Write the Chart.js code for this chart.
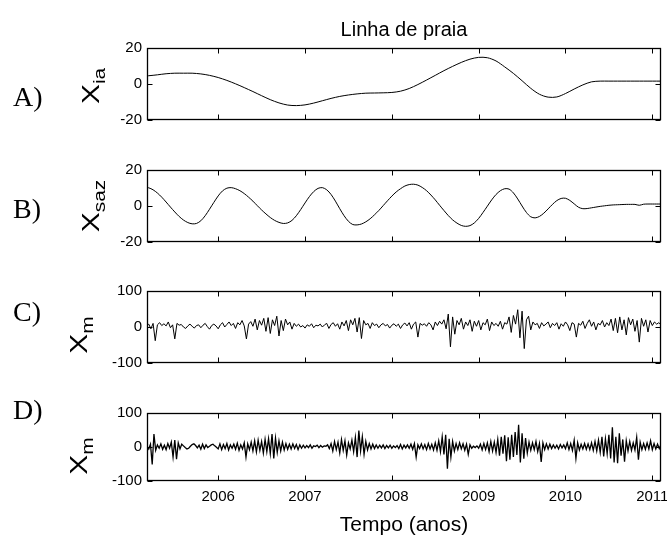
<!DOCTYPE html>
<html>
<head>
<meta charset="utf-8">
<script src="https://cdn.jsdelivr.net/npm/chart.js@4.4.1/dist/chart.umd.min.js"></script>
<style>
  body { margin: 0; background: #fff; }
  #wrap { position: relative; width: 667px; height: 540px; overflow: hidden; font-family: "Liberation Sans", Arial, sans-serif; }
  #wrap canvas { position: absolute; left: 0; }
  .tag { position: absolute; font-family: "Liberation Serif", "Times New Roman", serif; font-size: 28px; line-height: 28px; color: #000; }
  .ytl { position: absolute; font-size: 23px; line-height: 23px; white-space: nowrap; color: #000;
         transform: translate(-50%, -50%) rotate(-90deg) scaleX(1.3); }
  .ytl sub { font-size: 16px; vertical-align: -6px; }
</style>
</head>
<body>
<div id="wrap"></div>
<script>
// x axis (years)
const yearTicks = [2006, 2007, 2008, 2009, 2010, 2011];
const xMin = 2005.18, xMax = 2011.10;

// A) X_ia - inter-annual component
const xiaStart = 2005.1, xiaStep = 0.1;
const xiaValues = [4.4, 4.6, 5.1, 5.7, 6.0, 6.0, 6.0, 5.6, 4.8,
  3.6, 2.0, 0.1, -2.0, -4.2, -6.5, -8.7, -10.5, -11.7, -12.0,
  -11.6, -10.6, -9.3, -8.0, -6.9, -6.1, -5.5, -5.1, -5.0, -4.9,
  -4.7, -4.0, -2.5, -0.3, 2.2, 4.8, 7.4, 9.8, 12.0, 13.8,
  14.8, 14.6, 12.8, 9.5, 5.9, 1.8, -2.4, -5.7, -7.3, -7.2,
  -5.3, -2.8, -0.5, 1.2, 1.6, 1.6, 1.6, 1.6, 1.6, 1.6, 1.6, 1.6];

// B) X_saz - seasonal component
const xsazStart = 2005.15, xsazStep = 0.05;
const xsazValues = [10.5, 10.1, 9.0, 7.2, 4.9, 2.2, -0.6, -3.3, -5.8, -7.8, -9.2, -9.9, -9.7, -8.2, -5.4, -1.8, 2.0,
  5.6, 8.4, 9.9, 10.2, 9.6, 8.5, 6.9, 4.9, 2.7, 0.2, -2.2, -4.4, -6.4, -8.0, -9.1, -9.7, -9.4, -8.0, -5.4, -2.0,
  1.7, 5.2, 8.0, 9.8, 10.2, 9.0, 6.4, 2.7, -1.5, -5.4, -8.5, -10.3, -10.5, -10.0, -8.8, -7.1, -4.9, -2.5, 0.2, 2.9,
  5.5, 7.8, 9.6, 11.1, 11.9, 12.1, 11.6, 10.3, 8.5, 6.1, 3.4, 0.4, -2.5, -5.3, -7.7, -9.5, -10.8, -11.3, -10.9, -9.4,
  -6.9, -3.6, -0.1, 3.4, 6.4, 8.5, 9.6, 9.4, 7.3, 3.9, 0.0, -3.6, -6.0, -6.6, -5.8, -4.0, -1.6, 0.9, 3.0, 4.2,
  4.3, 3.1, 1.2, -0.7, -1.5, -1.4, -1.0, -0.6, -0.2, 0.1, 0.4, 0.6, 0.7, 0.8, 0.9, 0.9, 0.9, 0.4, 1.0, 1.1,
  1.1, 1.1, 1.1];

// C) X_m - residual (first series)
const xmCStart = 2005.175, xmCStep = 0.025;
const xmCValues = [
  2, 8, -5, 10, -38, 6, 12, 4,
  9, 3, 14, -2, 6, -33, 10, 5,
  7, 0, -4, 3, 8, 2, -3, 4,
  6, -2, 5, 10, 1, -6, 4, 8,
  3, -5, 6, 12, 0, 7, 14, 4,
  10, -4, 12, 6, 18, 3, -33, 8,
  15, 2, 22, -8, 18, 5, 24, -12,
  26, -18, 20, 4, 30, -25, 18, -10,
  22, 6, 14, -6, 10, 2, 8, 0,
  4, -3, 6, 2, 9, -2, 5, 3,
  8, 0, 6, 10, -4, 7, 12, 2,
  9, -6, 14, 3, 18, -10, 20, 6,
  24, -14, 26, -32, 18, 6, 10, -4,
  12, 4, 8, -2, 6, 10, 3, 7,
  -3, 5, 9, 2, 8, -4, 6, 11,
  3, 12, -6, 8, 14, -28, 10, 5,
  9, 2, 12, 6, -8, 14, 4, 16,
  8, 20, -5, 36, -55, 28, -20, 18,
  6, 24, -6, 14, 4, 20, -12, 16,
  2, 18, -8, 12, 6, 22, -10, 14,
  4, 10, 2, 16, -6, 12, 8, 28,
  -15, 32, 8, 48, -30, 44, -60, 20,
  30, -8, 14, 6, 10, -4, 12, 3,
  8, 14, -2, 10, 4, 12, -6, 9,
  2, 14, 6, -10, 12, 8, -28, 10,
  5, 16, -4, 10, 20, 2, 14, -8,
  10, 6, 18, 0, 12, 4, 22, -10,
  24, -16, 28, -8, 20, -22, 26, 6,
  22, -12, 18, -42, 24, 2, 20, -14,
  18, 4, 14, 8, 12, 6];

// D) X_m - residual (second series)
const xmDStart = 2005.18, xmDStep = 0.02;
const xmDValues = [
  2, -6, 8, -52, 38, -10, 6, -4, 9, -7,
  5, -8, 10, -4, 14, -30, 20, -36, 12, -6,
  8, 3, -2, -6, -4, 2, 7, 9, 4, -3,
  5, -7, 8, -5, 6, -2, 2, 6, 8, 3,
  -1, -6, 9, -8, 7, -5, 10, -9, 6, -4,
  8, -7, 11, -10, 6, -6, 12, -30, 9, -8,
  14, -12, 18, -15, 20, -10, 16, -18, 22, -14,
  24, -20, 38, -34, 26, -16, 18, -12, 14, -9,
  10, -7, 8, -6, 9, -5, 7, -8, 6, -4,
  5, -3, 4, -2, 6, -4, 3, 1, 5, -2,
  4, -1, 3, 2, 6, -5, 10, -12, 16, -8,
  14, -18, 22, -10, 18, -24, 12, -6, 20, -14,
  28, -30, 48, -12, 30, -22, 16, -9, 10, -6,
  8, -5, 6, -4, 5, -3, 6, -5, 4, -3,
  5, -4, 3, -2, 4, -5, 7, -6, 5, -3,
  6, -4, 8, -7, 10, -30, 6, -5, 9, -6,
  7, -8, 10, -6, 8, -9, 12, -10, 18, -14,
  30, -22, 36, -64, 24, -30, 16, -12, 10, -8,
  12, -6, 9, -10, 8, -22, 6, -4, 2, -2,
  3, -4, 8, -9, 10, -8, 12, -14, 16, -12,
  14, -16, 22, -26, 30, -20, 34, -42, 28, -38,
  36, -30, 44, -24, 65, -46, 40, -35, 26, -18,
  14, -10, 12, -8, 16, -14, 10, -44, 12, -8,
  9, -6, 8, -5, 6, -4, 5, -6, 7, -3,
  6, -5, 12, -8, 10, -10, 20, -34, 12, -9,
  8, -6, 10, -7, 9, -8, 12, -10, 16, -12,
  20, -16, 30, -28, 24, -20, 36, -34, 58, -46,
  30, -48, 40, -26, 22, -44, 18, -12, 16, -10,
  12, -9, 28, -38, 14, -8, 10, -7, 12, -6,
  18, -8, 10, -6, 8, -5, 7];

const yTicksSaz = [-20, 0, 20];
const yTicksRes = [-100, 0, 100];

// layout
const PLOT_LEFT = 147, PLOT_RIGHT = 661;
const FAMILY = "'Liberation Sans', Arial, sans-serif";
const TICK_FONT = { family: FAMILY, size: 15 };

const wrap = document.getElementById('wrap');

// axes box + inward tick marks on all four sides (MATLAB style)
const boxPlugin = {
  id: 'box',
  afterDatasetsDraw(chart) {
    const { ctx, chartArea: a, scales: { x, y } } = chart;
    const L = Math.round(a.left) + 0.5, R = Math.round(a.right) - 0.5;
    const T = Math.round(a.top) + 0.5, B = Math.round(a.bottom) - 0.5;
    ctx.save();
    ctx.strokeStyle = '#000';
    ctx.lineWidth = 1;
    ctx.beginPath();
    x.ticks.forEach(t => {
      const px = Math.round(x.getPixelForValue(t.value)) + 0.5;
      ctx.moveTo(px, T); ctx.lineTo(px, T + 5);
      ctx.moveTo(px, B); ctx.lineTo(px, B - 5);
    });
    y.ticks.forEach(t => {
      const py = Math.round(y.getPixelForValue(t.value)) + 0.5;
      ctx.moveTo(L, py); ctx.lineTo(L + 5, py);
      ctx.moveTo(R, py); ctx.lineTo(R - 5, py);
    });
    ctx.stroke();
    ctx.lineWidth = 1.3;
    ctx.strokeRect(L, T, R - L, B - T);
    ctx.restore();
  }
};

function series(start, step, values) {
  return values.map((v, i) => ({ x: start + i * step, y: v }));
}

function makePanel(p) {
  const canvas = document.createElement('canvas');
  canvas.width = 667;
  canvas.height = p.height;
  canvas.style.top = p.canvasTop + 'px';
  wrap.appendChild(canvas);

  new Chart(canvas, {
    type: 'line',
    data: {
      datasets: [{
        data: p.data,
        borderColor: '#000',
        borderWidth: p.lineWidth || 1,
        pointRadius: 0,
        tension: p.smooth ? 0.3 : 0
      }]
    },
    options: {
      responsive: false,
      animation: false,
      events: [],
      layout: { padding: { left: 0, right: 667 - PLOT_RIGHT, top: p.padTop, bottom: p.padBottom } },
      plugins: {
        legend: { display: false },
        tooltip: { enabled: false },
        title: p.title ? {
          display: true, text: p.title, fullSize: false, color: '#000',
          font: { family: FAMILY, size: 20, weight: 'normal' },
          padding: { top: 14, bottom: 6 }
        } : { display: false }
      },
      scales: {
        x: {
          type: 'linear', min: xMin, max: xMax,
          afterBuildTicks: s => { s.ticks = yearTicks.map(v => ({ value: v })); },
          afterFit: s => {
            s.paddingLeft = 0; s.paddingRight = 0;
            if (!p.showX) s.height = 0;
          },
          grid: { display: false, drawTicks: false },
          border: { display: false },
          ticks: { display: !!p.showX, color: '#000', font: TICK_FONT, padding: 7,
                   maxRotation: 0, autoSkip: false, callback: v => String(v) },
          title: p.showX ? {
            display: true, text: 'Tempo (anos)', color: '#000',
            font: { family: FAMILY, size: 21 },
            padding: { top: 0, bottom: 2 }
          } : { display: false }
        },
        y: {
          min: p.yTicks[0], max: p.yTicks[p.yTicks.length - 1],
          afterBuildTicks: s => { s.ticks = p.yTicks.map(v => ({ value: v })); },
          afterFit: s => { s.width = PLOT_LEFT; s.paddingTop = 0; s.paddingBottom = 0; },
          grid: { display: false, drawTicks: false },
          border: { display: false },
          ticks: { color: '#000', font: TICK_FONT, padding: 5, callback: v => String(v) }
        }
      }
    },
    plugins: [boxPlugin]
  });
}

makePanel({ canvasTop: 0, height: 130, padTop: 4, padBottom: 10, title: 'Linha de praia',
  data: series(xiaStart, xiaStep, xiaValues), yTicks: yTicksSaz, smooth: true });
makePanel({ canvasTop: 160, height: 92, padTop: 10, padBottom: 10,
  data: series(xsazStart, xsazStep, xsazValues), yTicks: yTicksSaz, smooth: true });
makePanel({ canvasTop: 281, height: 92, padTop: 10, padBottom: 10,
  data: series(xmCStart, xmCStep, xmCValues), yTicks: yTicksRes });
makePanel({ canvasTop: 403, height: 137, padTop: 10, padBottom: 0, showX: true, lineWidth: 1.3,
  data: series(xmDStart, xmDStep, xmDValues), yTicks: yTicksRes });

// panel letters and y-axis titles
const tags = [
  { text: 'A)', left: 13, top: 83 },
  { text: 'B)', left: 13, top: 195 },
  { text: 'C)', left: 13, top: 298 },
  { text: 'D)', left: 13, top: 396 }
];
tags.forEach(t => {
  const d = document.createElement('div');
  d.className = 'tag';
  d.textContent = t.text;
  d.style.left = t.left + 'px';
  d.style.top = t.top + 'px';
  wrap.appendChild(d);
});

const yTitles = [
  { main: 'X', sub: 'ia', cx: 95, cy: 86 },
  { main: 'X', sub: 'saz', cx: 95, cy: 206 },
  { main: 'X', sub: 'm', cx: 83, cy: 335 },
  { main: 'X', sub: 'm', cx: 83, cy: 456 }
];
yTitles.forEach(t => {
  const d = document.createElement('div');
  d.className = 'ytl';
  d.innerHTML = t.main + '<sub>' + t.sub + '</sub>';
  d.style.left = t.cx + 'px';
  d.style.top = t.cy + 'px';
  wrap.appendChild(d);
});
</script>
</body>
</html>
